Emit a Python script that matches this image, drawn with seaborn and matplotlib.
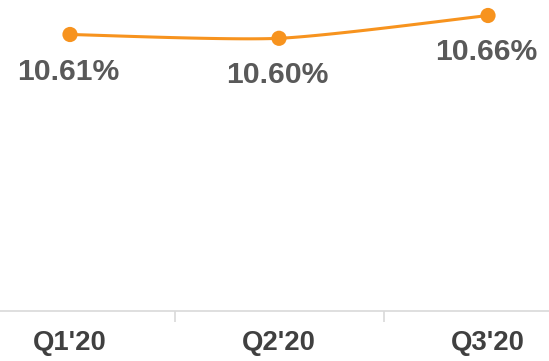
import numpy as np
import matplotlib
matplotlib.use("Agg")
import matplotlib.pyplot as plt
import seaborn as sns

quarters = ["Q1'20", "Q2'20", "Q3'20"]
rates = [10.61, 10.60, 10.66]
labels = ["10.61%", "10.60%", "10.66%"]

sns.set_style("white")
plt.rcParams["font.family"] = ["Liberation Sans", "DejaVu Sans"]

orange = "#F7931E"
fig = plt.figure(figsize=(5.49, 3.61), dpi=100)
ax = fig.add_axes([0, 50 / 361, 1, 311 / 361])

x = np.arange(len(quarters), dtype=float)
y = np.array(rates)


def smooth_path(xs, ys, n=60, tension=0.5):
    # cardinal spline through the points
    px, py = [], []
    for i in range(len(xs) - 1):
        x0, y0 = xs[max(i - 1, 0)], ys[max(i - 1, 0)]
        x1, y1 = xs[i], ys[i]
        x2, y2 = xs[i + 1], ys[i + 1]
        x3, y3 = xs[min(i + 2, len(xs) - 1)], ys[min(i + 2, len(xs) - 1)]
        m1x, m1y = tension * (x2 - x0), tension * (y2 - y0)
        m2x, m2y = tension * (x3 - x1), tension * (y3 - y1)
        t = np.linspace(0, 1, n)
        h00 = 2 * t**3 - 3 * t**2 + 1
        h10 = t**3 - 2 * t**2 + t
        h01 = -2 * t**3 + 3 * t**2
        h11 = t**3 - t**2
        px.extend(h00 * x1 + h10 * m1x + h01 * x2 + h11 * m2x)
        py.extend(h00 * y1 + h10 * m1y + h01 * y2 + h11 * m2y)
    return np.array(px), np.array(py)


sx, sy = smooth_path(x, y, tension=0.35)
ax.plot(sx, sy, color=orange, lw=2.2, solid_capstyle="round", zorder=2)
sns.scatterplot(x=x, y=y, color=orange, s=120, edgecolor="none", ax=ax, zorder=3)

for xi, yi, lab in zip(x, y, labels):
    ax.annotate(lab, (xi, yi), xytext=(-2, -37), textcoords="offset pixels",
                ha="center", va="center", fontsize=21.7, fontweight="bold", color="#595959")

# pixel layout: 209 px per quarter, 380 px per percentage point
ax.set_xlim((0 - 70) / 209, (549 - 70) / 209)
ax.set_ylim(10.60 - (311 - 38.3) / 380, 10.60 + 38.3 / 380)

for s in ["top", "right", "left"]:
    ax.spines[s].set_visible(False)
ax.spines["bottom"].set_color("#D9D9D9")
ax.spines["bottom"].set_linewidth(1.2)

ax.set_yticks([])
ax.set_xticks(x)
ax.set_xticklabels(quarters, fontsize=19.8, fontweight="bold", color="#404040")
ax.tick_params(axis="x", which="both", bottom=True)
ax.tick_params(axis="x", which="major", length=0, pad=14)
ax.set_xticks([0.5, 1.5], minor=True)
ax.tick_params(axis="x", which="minor", length=8, width=1.2, color="#D9D9D9", direction="out")
ax.set_xlabel("")
ax.set_ylabel("")

fig.savefig("out.png", dpi=100)
